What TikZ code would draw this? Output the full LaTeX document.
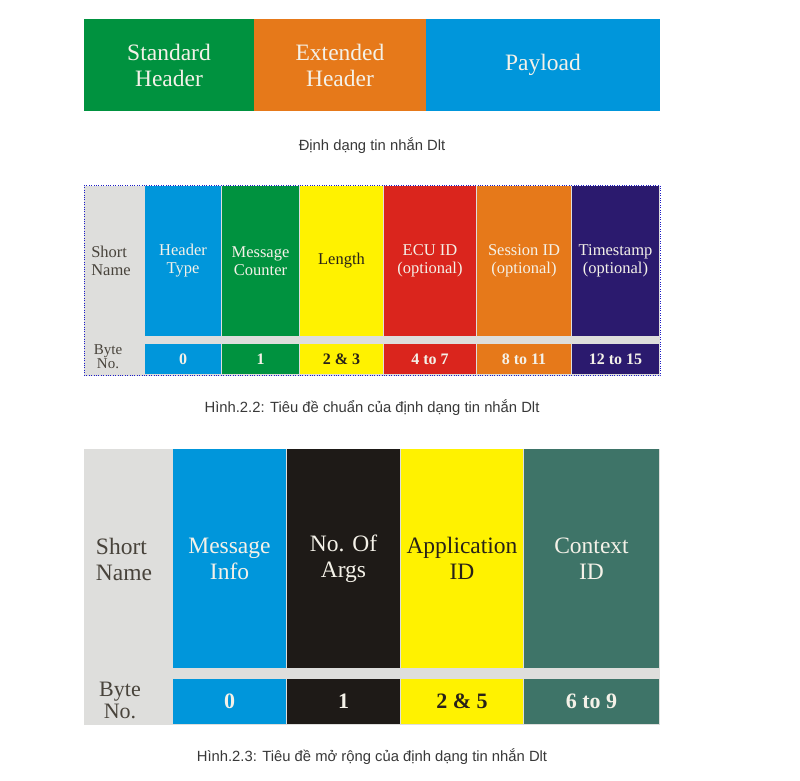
\documentclass[tikz,border=0pt]{standalone}
\usepackage{fontspec}
\usepackage{tikz}
\usetikzlibrary{positioning}
\setmainfont{Liberation Serif}
\newfontfamily\capfont{Liberation Sans}
\definecolor{dltgreen}{RGB}{0,146,63}
\definecolor{dltorange}{RGB}{230,121,26}
\definecolor{dltblue}{RGB}{0,150,219}
\definecolor{dltyellow}{RGB}{255,242,0}
\definecolor{dltred}{RGB}{218,37,29}
\definecolor{dltnavy}{RGB}{43,26,110}
\definecolor{dltblack}{RGB}{30,26,23}
\definecolor{dltteal}{RGB}{62,116,104}
\definecolor{dltgrey}{RGB}{222,222,220}
\definecolor{dotblue}{RGB}{30,30,200}
\definecolor{paleink}{RGB}{244,241,232}
\definecolor{darkink}{RGB}{40,34,24}

\begin{document}
\begin{tikzpicture}[x=1pt,y=-1pt, node distance=1pt,
  blk/.style={inner sep=0pt,outer sep=0pt,minimum height=92pt,text=paleink,align=center,
              font=\fontsize{23.5}{26}\selectfont},
  bg/.style={inner sep=0pt,outer sep=0pt,fill=dltgrey,anchor=north west},
  % the small table (standard header)
  hcol/.style={inner sep=0pt,outer sep=0pt,minimum height=150pt,text=paleink,align=center,
               font=\fontsize{16.5}{18}\selectfont},
  hbyte/.style={inner sep=0pt,outer sep=0pt,minimum height=30pt,text=paleink,
                font=\fontsize{16}{18}\selectfont\bfseries},
  % the large table (extended header)
  xcol/.style={inner sep=0pt,outer sep=0pt,minimum height=219pt,text=paleink,align=center,
               font=\fontsize{23.5}{26}\selectfont},
  xbyte/.style={inner sep=0pt,outer sep=0pt,minimum height=45pt,text=paleink,
                font=\fontsize{22}{24}\selectfont\bfseries},
  lbl/.style={text=darkink!85,inner sep=0pt},
  figcap/.style={font=\capfont\fontsize{14.8}{16}\selectfont,text=black!78,inner sep=0pt}]

\useasboundingbox (0,0) rectangle (800,781);

% message layout
\node[blk,fill=dltgreen,minimum width=170pt,anchor=north west] (std) at (84,19) {Standard\\Header};
\node[blk,fill=dltorange,minimum width=172pt,right=0pt of std] (ext) {Extended\\Header};
\node[blk,fill=dltblue,minimum width=234pt,right=0pt of ext] (pay) {Payload};
\node[figcap] (cap1) at (372,146) {Định dạng tin nhắn Dlt};

% standard header
\node[bg,draw=dotblue,dotted,minimum width=576pt,minimum height=190pt] (hbg) at (84,185.5) {};
\node[lbl,align=left,font=\fontsize{16.5}{18}\selectfont] (hshort) at (111,261) {Short\\Name};
\node[lbl,align=center,font=\fontsize{15}{14}\selectfont] (hno) at (108,357) {Byte\\No.};

\node[hcol,fill=dltblue,minimum width=76pt,anchor=north west] (htype) at (145,186) {Header\\Type};
\node[hcol,fill=dltgreen,minimum width=77pt,right=of htype] (hcnt) {Message\\Counter};
\node[hcol,fill=dltyellow,text=darkink,minimum width=83pt,right=of hcnt] (hlen) {Length};
\node[hcol,fill=dltred,minimum width=92pt,right=of hlen] (hecu) {ECU ID\\(optional)};
\node[hcol,fill=dltorange,minimum width=94pt,right=of hecu] (hses) {Session ID\\(optional)};
\node[hcol,fill=dltnavy,minimum width=87pt,right=of hses] (htms) {Timestamp\\(optional)};

\node[hbyte,fill=dltblue,minimum width=76pt,below=8pt of htype] (btype) {0};
\node[hbyte,fill=dltgreen,minimum width=77pt,below=8pt of hcnt] (bcnt) {1};
\node[hbyte,fill=dltyellow,text=darkink,minimum width=83pt,below=8pt of hlen] (blen) {2 \& 3};
\node[hbyte,fill=dltred,minimum width=92pt,below=8pt of hecu] (becu) {4 to 7};
\node[hbyte,fill=dltorange,minimum width=94pt,below=8pt of hses] (bses) {8 to 11};
\node[hbyte,fill=dltnavy,minimum width=87pt,below=8pt of htms] (btms) {12 to 15};
\node[figcap] (cap2) at (372,408) {Hình.2.2: Tiêu đề chuẩn của định dạng tin nhắn Dlt};

% extended header
\node[bg,minimum width=576pt,minimum height=276pt] (xbg) at (84,449) {};
\node[lbl,align=left,font=\fontsize{23.5}{26}\selectfont] (xshort) at (124,559) {Short\\Name};
\node[lbl,align=center,font=\fontsize{22}{22}\selectfont] (xno) at (120,700) {Byte\\No.};

\node[xcol,fill=dltblue,minimum width=113pt,anchor=north west] (xinfo) at (173,449) {Message\\Info};
\node[xcol,fill=dltblack,minimum width=113pt,right=of xinfo] (xargs) {No. Of\\Args};
\node[xcol,fill=dltyellow,text=darkink,minimum width=122pt,right=of xargs] (xapp) {Application\\ID};
\node[xcol,fill=dltteal,minimum width=135pt,right=of xapp] (xctx) {Context\\ID};

\node[xbyte,fill=dltblue,minimum width=113pt,below=11pt of xinfo] (yinfo) {0};
\node[xbyte,fill=dltblack,minimum width=113pt,below=11pt of xargs] (yargs) {1};
\node[xbyte,fill=dltyellow,text=darkink,minimum width=122pt,below=11pt of xapp] (yapp) {2 \& 5};
\node[xbyte,fill=dltteal,minimum width=135pt,below=11pt of xctx] (yctx) {6 to 9};
\node[figcap] (cap3) at (372,757) {Hình.2.3: Tiêu đề mở rộng của định dạng tin nhắn Dlt};
\end{tikzpicture}
\end{document}
